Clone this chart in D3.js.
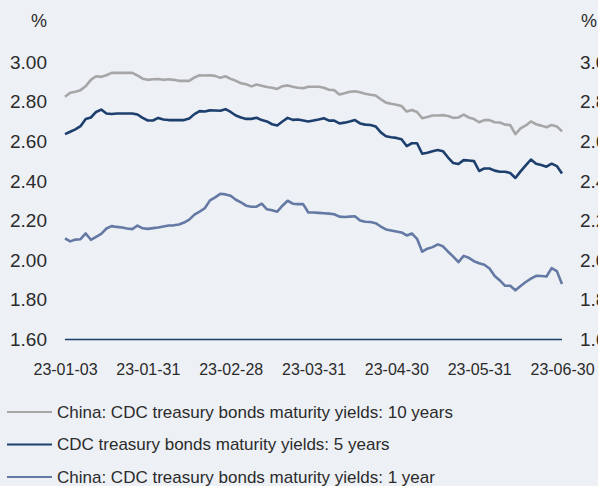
<!DOCTYPE html>
<html>
<head>
<meta charset="utf-8">
<script src="https://cdn.jsdelivr.net/npm/d3@7"></script>
<style>
	html, body { margin: 0; padding: 0; background: #edf0f5; }
	svg { display: block; font-family: "Liberation Sans", Arial, sans-serif; }
</style>
</head>
<body>
<svg id="chart" width="598" height="486"></svg>
<script>
// tick labels on the x axis (evenly spaced along the trading days)
const dateLabels = ["23-01-03", "23-01-31", "23-02-28", "23-03-31", "23-04-30", "23-05-31", "23-06-30"];
const yTicks = [1.6, 1.8, 2.0, 2.2, 2.4, 2.6, 2.8, 3.0];

const seriesNames = [
	"China: CDC treasury bonds maturity yields: 10 years",
	"CDC treasury bonds maturity yields: 5 years",
	"China: CDC treasury bonds maturity yields: 1 year"
];

// yields, % (97 samples Jan 3 -> Jun 30)
const yield10y = [
	2.825, 2.845, 2.85, 2.858, 2.878, 2.91, 2.928, 2.925, 2.933, 2.945,
	2.945, 2.945, 2.945, 2.945, 2.932, 2.916, 2.91, 2.913, 2.914, 2.91,
	2.913, 2.91, 2.905, 2.905, 2.905, 2.922, 2.933, 2.932, 2.933, 2.93,
	2.92, 2.928, 2.915, 2.905, 2.893, 2.888, 2.877, 2.886, 2.88, 2.874,
	2.87, 2.864, 2.878, 2.882, 2.875, 2.87, 2.868, 2.875, 2.875, 2.875,
	2.87, 2.86, 2.858, 2.836, 2.842, 2.85, 2.852, 2.847, 2.84, 2.835,
	2.831, 2.812, 2.795, 2.789, 2.784, 2.778, 2.75, 2.758, 2.748, 2.716,
	2.722, 2.73, 2.73, 2.732, 2.728, 2.718, 2.72, 2.735, 2.72, 2.712,
	2.696, 2.707, 2.707, 2.696, 2.695, 2.684, 2.682, 2.636, 2.665, 2.68,
	2.7, 2.686, 2.679, 2.671, 2.682, 2.675, 2.65
];

const yield5y = [
	2.636, 2.648, 2.66, 2.676, 2.712, 2.72, 2.748, 2.76, 2.74, 2.738,
	2.74, 2.74, 2.74, 2.74, 2.735, 2.718, 2.705, 2.705, 2.718, 2.71,
	2.707, 2.707, 2.707, 2.707, 2.715, 2.737, 2.752, 2.75, 2.756, 2.755,
	2.754, 2.762, 2.748, 2.73, 2.72, 2.713, 2.713, 2.719, 2.707, 2.7,
	2.686, 2.68, 2.7, 2.718, 2.708, 2.71, 2.705, 2.7, 2.705, 2.71,
	2.716, 2.704, 2.704, 2.69, 2.694, 2.7, 2.707, 2.69, 2.684, 2.682,
	2.675, 2.645, 2.625, 2.62, 2.617, 2.61, 2.576, 2.59, 2.59, 2.537,
	2.542, 2.55, 2.556, 2.55, 2.518, 2.49, 2.485, 2.505, 2.503, 2.5,
	2.45, 2.463, 2.463, 2.452, 2.446, 2.446, 2.44, 2.415, 2.448, 2.478,
	2.508, 2.487, 2.48, 2.472, 2.487, 2.475, 2.438
];

const yield1y = [
	2.11, 2.095, 2.104, 2.106, 2.135, 2.103, 2.118, 2.133, 2.16, 2.172,
	2.168, 2.165, 2.16, 2.157, 2.175, 2.161, 2.158, 2.162, 2.165, 2.17,
	2.175, 2.176, 2.18, 2.19, 2.205, 2.23, 2.245, 2.262, 2.302, 2.317,
	2.335, 2.332, 2.325, 2.305, 2.292, 2.275, 2.27, 2.27, 2.285, 2.257,
	2.252, 2.245, 2.275, 2.3, 2.285, 2.283, 2.283, 2.241, 2.241, 2.239,
	2.237, 2.235, 2.232, 2.22, 2.218, 2.22, 2.222, 2.2, 2.194, 2.193,
	2.187, 2.17, 2.155, 2.15, 2.145, 2.14, 2.125, 2.135, 2.108, 2.043,
	2.058, 2.066, 2.08, 2.07, 2.043, 2.018, 1.99, 2.022, 2.012, 1.995,
	1.985, 1.977, 1.958, 1.92, 1.898, 1.871, 1.871, 1.848, 1.87, 1.89,
	1.907, 1.921, 1.92, 1.918, 1.96, 1.945, 1.88
];

const seriesColors = ["#a6a6a6", "#1d3f6e", "#6479a4"];

function whenDocumentLoaded(action) {
	if (document.readyState === "loading") {
		document.addEventListener("DOMContentLoaded", action);
	} else {
		action();
	}
}

whenDocumentLoaded(() => {
	drawChart();
});

function drawChart() {
	const svg = d3.select("#chart");
	const left = 65, right = 562, top = 62, bottom = 339.5;
	const n = yield10y.length;

	const x = d3.scaleLinear().domain([0, n - 1]).range([left, right]);
	const y = d3.scaleLinear().domain([1.6, 3.0]).range([bottom, top]);

	// x tick positions: evenly spread over the sample index
	const xTickIdx = dateLabels.map((d, i) => i * (n - 1) / (dateLabels.length - 1));

	// left axis
	const yAxisL = d3.axisLeft(y).tickValues(yTicks).tickFormat(d3.format(".2f")).tickSize(0).tickPadding(0);
	const gl = svg.append("g").attr("transform", "translate(47,0)").call(yAxisL);
	gl.select(".domain").remove();
	gl.selectAll("text").attr("font-size", 19).attr("fill", "#2b2b2b").attr("font-family", "Liberation Sans, Arial, sans-serif");

	// right axis (cut by the edge like the original)
	const yAxisR = d3.axisRight(y).tickValues(yTicks).tickFormat(d3.format(".2f")).tickSize(0).tickPadding(0);
	const gr = svg.append("g").attr("transform", "translate(580,0)").call(yAxisR);
	gr.select(".domain").remove();
	gr.selectAll("text").attr("font-size", 19).attr("fill", "#2b2b2b").attr("font-family", "Liberation Sans, Arial, sans-serif");

	// unit labels
	svg.append("text").attr("x", 47).attr("y", 27).attr("text-anchor", "end")
		.attr("font-size", 18).attr("fill", "#2b2b2b").text("%");
	svg.append("text").attr("x", 581).attr("y", 27)
		.attr("font-size", 18).attr("fill", "#2b2b2b").text("%");

	// x axis labels
	const xAxis = d3.axisBottom(x).tickValues(xTickIdx).tickFormat((d, i) => dateLabels[i]).tickSize(0).tickPadding(24);
	const gx = svg.append("g").attr("transform", `translate(0,${bottom})`).call(xAxis);
	gx.select(".domain").remove();
	gx.selectAll("text").attr("font-size", 16).attr("fill", "#2b2b2b").attr("font-family", "Liberation Sans, Arial, sans-serif");

	// baseline at 1.60
	svg.append("line")
		.attr("x1", x(0)).attr("x2", x(n - 1))
		.attr("y1", y(1.6)).attr("y2", y(1.6))
		.attr("stroke", "#1d3f6e").attr("stroke-width", 1.6);

	const line = d3.line().x((d, i) => x(i)).y(d => y(d));
	const allSeries = [yield10y, yield5y, yield1y];

	svg.selectAll("path.series")
		.data(allSeries)
		.enter()
		.append("path")
		.attr("class", "series")
		.attr("d", line)
		.attr("fill", "none")
		.attr("stroke", (d, i) => seriesColors[i])
		.attr("stroke-width", 2.6)
		.attr("stroke-linejoin", "round");

	// legend
	const legend = svg.append("g");
	const rows = legend.selectAll("g")
		.data(seriesNames)
		.enter()
		.append("g")
		.attr("transform", (d, i) => `translate(0,${412 + i * 32.5})`);
	rows.append("line")
		.attr("x1", 7).attr("x2", 52)
		.attr("stroke", (d, i) => seriesColors[i])
		.attr("stroke-width", 2.2);
	rows.append("text")
		.attr("x", 57).attr("dy", "0.35em")
		.attr("font-size", 17).attr("fill", "#2b2b2b")
		.text(d => d);
}
</script>
</body>
</html>
